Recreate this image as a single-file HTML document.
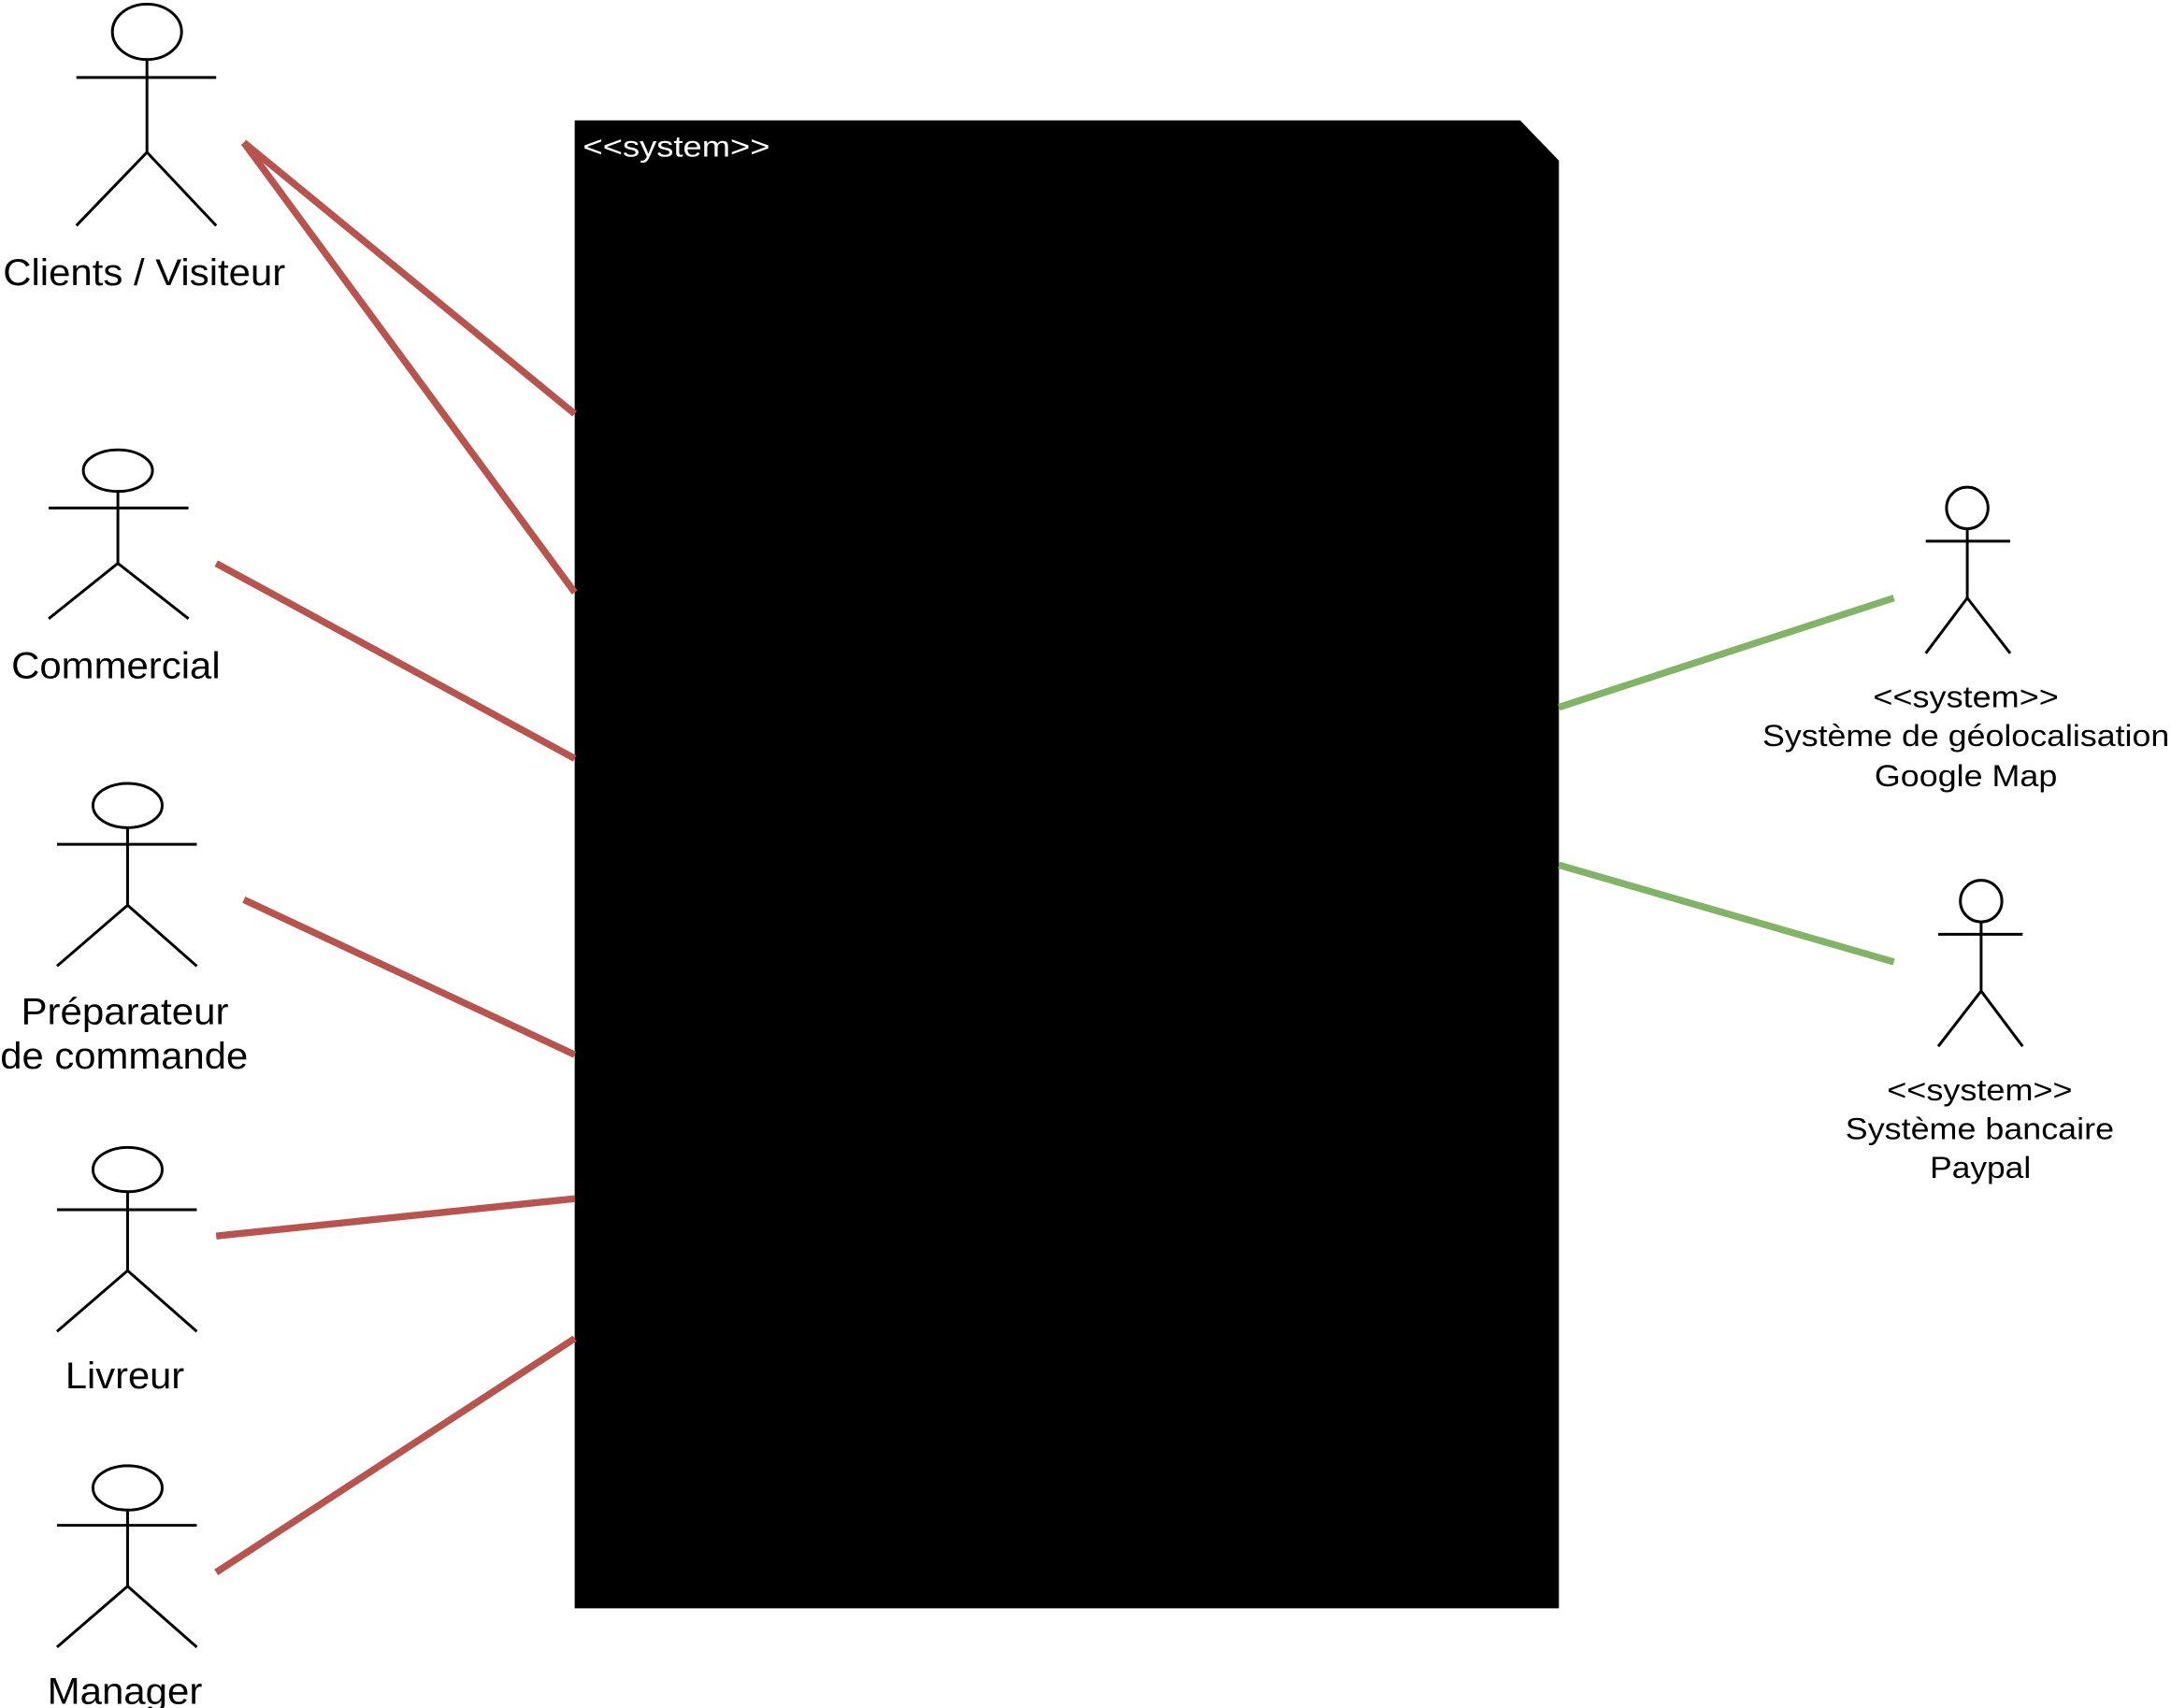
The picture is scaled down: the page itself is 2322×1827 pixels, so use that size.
<!DOCTYPE html>
<html><head><meta charset="utf-8"><style>
html,body{margin:0;padding:0;background:#fff;}
svg{display:block;}
text{font-family:"Liberation Sans",Arial,sans-serif;}
</style></head><body>
<svg width="2322" height="1827" viewBox="0 0 1568 1234" xmlns="http://www.w3.org/2000/svg">
<rect width="1568" height="1234" fill="#fff"/>
<polygon points="415,87 1098,87 1126,116 1126,1162 415,1162" fill="#000"/>
<text x="421" y="113" fill="#fff" font-size="21" textLength="135" lengthAdjust="spacingAndGlyphs">&lt;&lt;system&gt;&gt;</text>
<g stroke="#b85450" stroke-width="5" fill="none">
<line x1="176" y1="103" x2="415" y2="299"/>
<line x1="176" y1="103" x2="415" y2="428"/>
<line x1="156" y1="407" x2="415" y2="548"/>
<line x1="176" y1="650" x2="415" y2="762"/>
<line x1="156" y1="893" x2="415" y2="866"/>
<line x1="156" y1="1136" x2="415" y2="967"/>
</g>
<g stroke="#82b366" stroke-width="5" fill="none">
<line x1="1126" y1="511" x2="1368" y2="432"/>
<line x1="1126" y1="625" x2="1368" y2="695"/>
</g>
<g stroke="#000" stroke-width="2" fill="#fff">
<ellipse cx="106" cy="23" rx="25" ry="20"/>
<path d="M55,56H156M106,43V110L55,163M106,110L156,163" fill="none"/>
<ellipse cx="85" cy="340" rx="25" ry="15"/>
<path d="M35,367H136M85,355V407L35,447M85,407L136,447" fill="none"/>
<ellipse cx="92" cy="582" rx="25" ry="16"/>
<path d="M41,610H142M92,598V654L41,698M92,654L142,698" fill="none"/>
<ellipse cx="92" cy="845" rx="25" ry="16"/>
<path d="M41,874H142M92,861V918L41,962M92,918L142,962" fill="none"/>
<ellipse cx="92" cy="1075" rx="25" ry="16"/>
<path d="M41,1102H142M92,1091V1146L41,1190M92,1146L142,1190" fill="none"/>
<ellipse cx="1421" cy="367" rx="15" ry="15"/>
<path d="M1391,391H1452M1421,382V432L1391,472M1421,432L1452,472" fill="none"/>
<ellipse cx="1431" cy="651" rx="15" ry="15"/>
<path d="M1400,675H1461M1431,666V716L1400,756M1431,716L1461,756" fill="none"/>
</g>
<g font-size="27" fill="#000" lengthAdjust="spacingAndGlyphs">
<text x="2" y="206" textLength="204" lengthAdjust="spacingAndGlyphs">Clients / Visiteur</text>
<text x="8" y="490" textLength="151" lengthAdjust="spacingAndGlyphs">Commercial</text>
<text x="15" y="740" textLength="150" lengthAdjust="spacingAndGlyphs">Préparateur</text>
<text x="0" y="772" textLength="179" lengthAdjust="spacingAndGlyphs">de commande</text>
<text x="47" y="1003" textLength="86" lengthAdjust="spacingAndGlyphs">Livreur</text>
<text x="34" y="1231" textLength="112" lengthAdjust="spacingAndGlyphs">Manager</text>
</g>
<g font-size="22" fill="#000">
<text x="1353" y="511" textLength="134" lengthAdjust="spacingAndGlyphs">&lt;&lt;system&gt;&gt;</text>
<text x="1273" y="539" textLength="294" lengthAdjust="spacingAndGlyphs">Système de géolocalisation</text>
<text x="1354" y="568" textLength="132" lengthAdjust="spacingAndGlyphs">Google Map</text>
<text x="1363" y="795" textLength="134" lengthAdjust="spacingAndGlyphs">&lt;&lt;system&gt;&gt;</text>
<text x="1333" y="823" textLength="194" lengthAdjust="spacingAndGlyphs">Système bancaire</text>
<text x="1394" y="851" textLength="73" lengthAdjust="spacingAndGlyphs">Paypal</text>
</g>
</svg>
</body></html>
